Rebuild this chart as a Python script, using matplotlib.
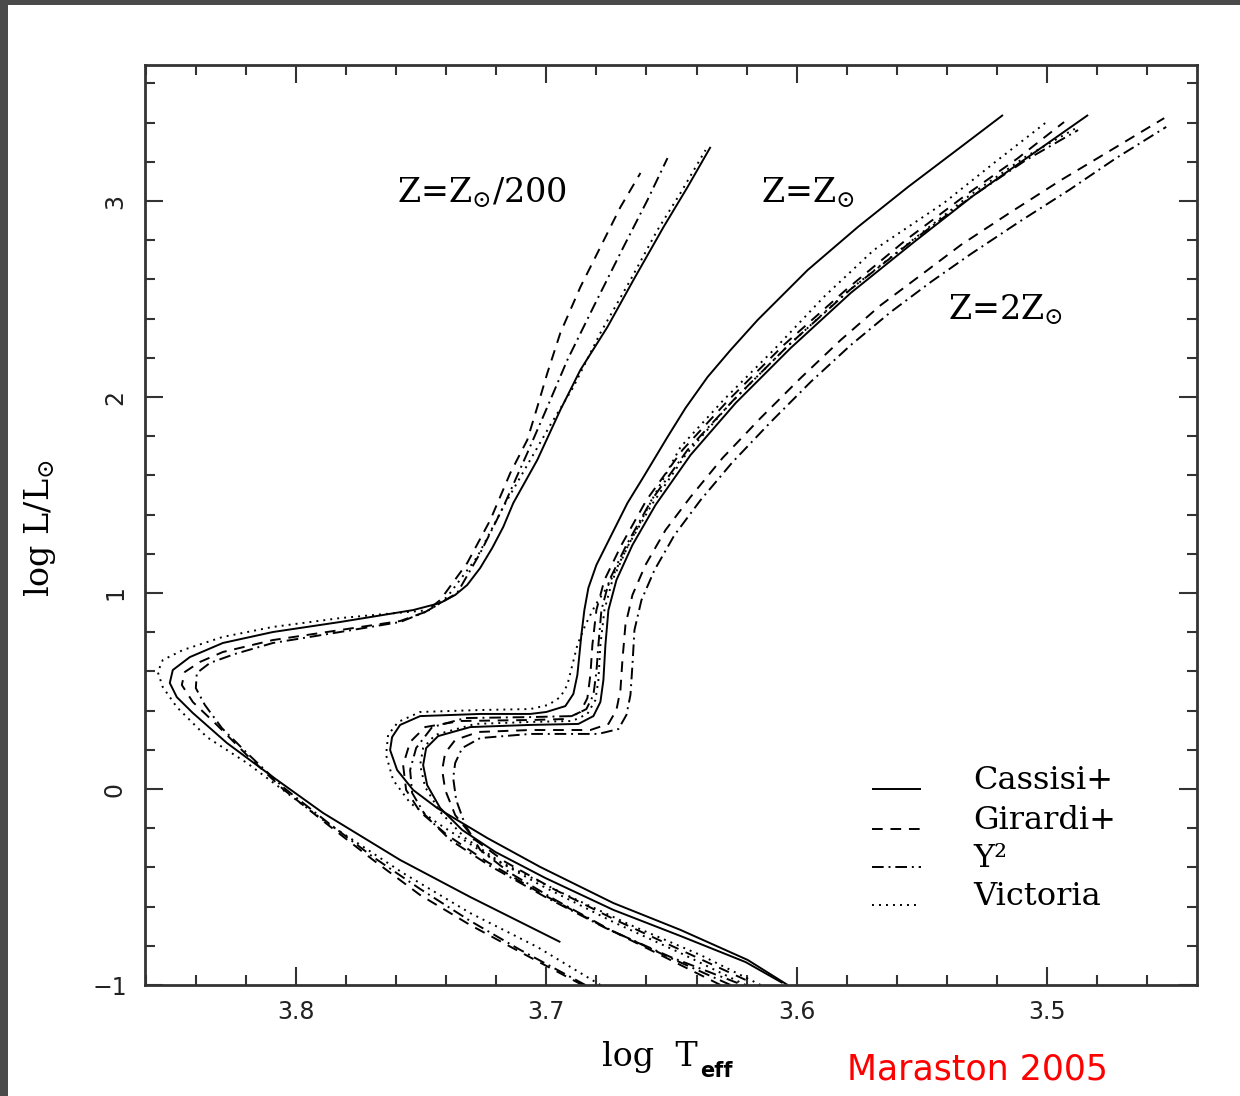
import matplotlib
matplotlib.use("Agg")
import matplotlib.pyplot as plt
from matplotlib.patches import Rectangle
from matplotlib.ticker import MultipleLocator

plt.rcParams['mathtext.fontset'] = 'dejavuserif'

# ---- isochrones: log Teff, log L/Lsun ----
# Z = Zsun/200
z200_cassisi_t = [3.6944, 3.7304, 3.7584, 3.7892, 3.8092, 3.8276, 3.8412, 3.8476, 3.8504, 3.8492, 3.8424, 3.8292, 3.8092, 3.7824,
                  3.7532, 3.7424, 3.7364, 3.7316, 3.7264, 3.7216, 3.7172, 3.7132, 3.7036, 3.6944, 3.6864, 3.6756, 3.6652,
                  3.6532, 3.6436, 3.6344]
z200_cassisi_l = [-0.781, -0.551, -0.362, -0.122, 0.061, 0.235, 0.388, 0.469, 0.541, 0.607, 0.673, 0.745, 0.801, 0.852,
                  0.913, 0.949, 0.990, 1.041, 1.128, 1.230, 1.337, 1.459, 1.679, 1.934, 2.138, 2.357, 2.597,
                  2.867, 3.071, 3.276]
z200_victoria_t = [3.6784, 3.7036, 3.7304, 3.7572, 3.7876, 3.8036, 3.8196, 3.8356, 3.8476, 3.8532, 3.8552, 3.8532, 3.8452, 3.8292,
                   3.8092, 3.7824, 3.7556, 3.7464, 3.7396, 3.7276, 3.7172, 3.7076, 3.6984, 3.6892, 3.6784, 3.6664, 3.6556, 3.6464, 3.6364]
z200_victoria_l = [-1.0, -0.806, -0.633, -0.429, -0.173, -0.020, 0.133, 0.265, 0.418, 0.520, 0.597, 0.658, 0.709, 0.776,
                   0.827, 0.872, 0.903, 0.913, 0.980, 1.184, 1.439, 1.653, 1.857, 2.051, 2.327, 2.597, 2.852, 3.041, 3.260]
z200_girardi_t = [3.6856, 3.7104, 3.7304, 3.7504, 3.7692, 3.7876, 3.8052, 3.8196, 3.8316, 3.8412, 3.8456, 3.8444, 3.8384, 3.8292, 3.8092,
                  3.7824, 3.7584, 3.7484, 3.7424, 3.7316, 3.7224, 3.7144, 3.7076, 3.7036, 3.6996, 3.6944, 3.6864, 3.6784, 3.6704, 3.6624]
z200_girardi_l = [-1.0, -0.832, -0.694, -0.541, -0.362, -0.179, 0.0, 0.173, 0.327, 0.444, 0.531, 0.597, 0.648, 0.699, 0.760,
                  0.811, 0.857, 0.903, 0.964, 1.153, 1.372, 1.612, 1.781, 1.949, 2.122, 2.327, 2.561, 2.765, 2.969, 3.143]
z200_y2_t = [3.6844, 3.7104, 3.7304, 3.7504, 3.7692, 3.7876, 3.8052, 3.8196, 3.8296, 3.8364, 3.84, 3.8396, 3.8344, 3.8244, 3.8092,
             3.7824, 3.7584, 3.7484, 3.7416, 3.7356, 3.7264, 3.7172, 3.7076, 3.6996, 3.6916, 3.6812, 3.6692, 3.6596, 3.6516]
z200_y2_l = [-1.0, -0.821, -0.673, -0.510, -0.347, -0.168, 0.010, 0.184, 0.311, 0.429, 0.515, 0.592, 0.643, 0.689, 0.745,
             0.801, 0.852, 0.903, 0.954, 1.0, 1.204, 1.439, 1.714, 1.949, 2.189, 2.459, 2.765, 3.005, 3.219]

# Z = Zsun
zsun_cassisi_t = [3.6036, 3.6196, 3.6464, 3.6732, 3.7024, 3.7236, 3.7436, 3.7532, 3.7596, 3.7624, 3.7616, 3.7584, 3.7504, 3.7264,
                  3.7064, 3.7, 3.6924, 3.6892, 3.6876, 3.6868, 3.686, 3.6848, 3.6832, 3.68, 3.6744, 3.6676, 3.6612, 3.6516,
                  3.6444, 3.6356, 3.6264, 3.6156, 3.5956, 3.5756, 3.5556, 3.5344, 3.5176]
zsun_cassisi_l = [-1.0, -0.872, -0.719, -0.582, -0.398, -0.250, -0.097, -0.005, 0.097, 0.199, 0.265, 0.327, 0.372, 0.383,
                  0.383, 0.393, 0.423, 0.485, 0.582, 0.684, 0.786, 0.913, 1.026, 1.143, 1.286, 1.459, 1.592, 1.796,
                  1.944, 2.102, 2.240, 2.393, 2.648, 2.867, 3.071, 3.276, 3.439]
zsun_victoria_t = [3.6204, 3.6464, 3.6732, 3.7024, 3.7236, 3.7436, 3.7544, 3.7612, 3.764, 3.7632, 3.7592, 3.7504, 3.7264, 3.7064,
                   3.6992, 3.6944, 3.6916, 3.6896, 3.6876, 3.6844, 3.6804, 3.6756, 3.6676, 3.6572, 3.6464, 3.6292, 3.6092,
                   3.5892, 3.5692, 3.5412, 3.5212, 3.4992]
zsun_victoria_l = [-1.0, -0.837, -0.679, -0.490, -0.337, -0.173, -0.071, 0.046, 0.173, 0.276, 0.342, 0.393, 0.403, 0.408,
                   0.429, 0.469, 0.531, 0.633, 0.735, 0.837, 0.939, 1.031, 1.235, 1.490, 1.745, 1.985, 2.240,
                   2.510, 2.750, 2.990, 3.194, 3.413]
zsun_girardi_t = [3.6304, 3.6544, 3.6784, 3.7024, 3.7236, 3.7396, 3.7504, 3.756, 3.7572, 3.7544, 3.7484, 3.7344, 3.7064, 3.6924,
                  3.6864, 3.6836, 3.6824, 3.6816, 3.68, 3.6768, 3.67, 3.66, 3.6456, 3.6272, 3.6052, 3.5804, 3.5564,
                  3.5324, 3.5116, 3.4932]
zsun_girardi_l = [-1.0, -0.847, -0.694, -0.531, -0.372, -0.235, -0.117, -0.005, 0.122, 0.240, 0.316, 0.347, 0.352, 0.357,
                  0.393, 0.464, 0.582, 0.735, 0.913, 1.066, 1.245, 1.474, 1.730, 1.985, 2.265, 2.546, 2.801,
                  3.031, 3.219, 3.403]
zsun_y2_t = [3.6236, 3.6504, 3.6764, 3.7004, 3.7224, 3.7384, 3.7484, 3.7536, 3.7544, 3.752, 3.7456, 3.7324, 3.7064, 3.6896,
             3.684, 3.6812, 3.68, 3.6792, 3.678, 3.6748, 3.668, 3.658, 3.6436, 3.6252, 3.6032, 3.5788, 3.5544,
             3.5304, 3.5084, 3.4876]
zsun_y2_l = [-0.990, -0.857, -0.709, -0.551, -0.393, -0.260, -0.133, -0.020, 0.097, 0.209, 0.316, 0.362, 0.367, 0.372,
             0.408, 0.480, 0.597, 0.735, 0.913, 1.066, 1.245, 1.474, 1.730, 1.985, 2.265, 2.546, 2.791,
             3.020, 3.209, 3.362]

# Z = 2 Zsun
z2sun_cassisi_t = [3.6056, 3.6204, 3.6464, 3.6732, 3.7004, 3.7204, 3.7336, 3.7424, 3.7476, 3.7492, 3.748, 3.7432, 3.7304, 3.7064,
                   3.6872, 3.6812, 3.6784, 3.6772, 3.6764, 3.6752, 3.672, 3.6656, 3.6564, 3.6424, 3.6244, 3.6024, 3.5784,
                   3.5536, 3.5296, 3.5064, 3.4836]
z2sun_cassisi_l = [-0.990, -0.883, -0.750, -0.617, -0.454, -0.321, -0.209, -0.097, 0.020, 0.122, 0.209, 0.270, 0.316, 0.327,
                   0.332, 0.372, 0.444, 0.556, 0.735, 0.913, 1.066, 1.245, 1.449, 1.704, 1.969, 2.250, 2.531,
                   2.786, 3.026, 3.235, 3.439]
z2sun_victoria_t = [3.6144, 3.6384, 3.6664, 3.6944, 3.7184, 3.7324, 3.7424, 3.7484, 3.7504, 3.7492, 3.7444, 3.7284, 3.7064, 3.6896,
                    3.6836, 3.6804, 3.6792, 3.6784, 3.6768, 3.6736, 3.6672, 3.658, 3.6444, 3.6264, 3.6044, 3.5804, 3.5552,
                    3.5312, 3.5088, 3.4884]
z2sun_victoria_l = [-1.0, -0.847, -0.694, -0.526, -0.372, -0.250, -0.117, 0.010, 0.122, 0.209, 0.276, 0.332, 0.342, 0.347,
                    0.383, 0.454, 0.556, 0.735, 0.913, 1.066, 1.245, 1.449, 1.704, 1.969, 2.250, 2.531, 2.786,
                    3.026, 3.224, 3.372]
z2sun_girardi_t = [3.6204, 3.6464, 3.6724, 3.6964, 3.7164, 3.7284, 3.7364, 3.7404, 3.7416, 3.7404, 3.7364, 3.7272, 3.7064, 3.6824,
                   3.6752, 3.672, 3.6704, 3.6696, 3.6684, 3.6656, 3.6604, 3.6524, 3.6424, 3.6296, 3.6144, 3.5984, 3.5824,
                   3.5664, 3.5504, 3.5344, 3.5144, 3.4944, 3.4744, 3.4532]
z2sun_girardi_l = [-0.974, -0.821, -0.668, -0.515, -0.372, -0.260, -0.133, -0.005, 0.097, 0.184, 0.250, 0.291, 0.301, 0.301,
                   0.332, 0.403, 0.505, 0.658, 0.837, 0.990, 1.143, 1.321, 1.490, 1.689, 1.893, 2.097, 2.291,
                   2.469, 2.622, 2.776, 2.944, 3.107, 3.260, 3.423]
z2sun_y2_t = [3.6264, 3.6504, 3.6744, 3.6964, 3.7144, 3.7264, 3.7324, 3.736, 3.7372, 3.7364, 3.7336, 3.7264, 3.7064, 3.6792,
              3.6712, 3.668, 3.6664, 3.6656, 3.6648, 3.662, 3.6568, 3.6488, 3.6384, 3.6256, 3.6104, 3.5944, 3.5784,
              3.5624, 3.5464, 3.5304, 3.5112, 3.4912, 3.4724, 3.4524]
z2sun_y2_l = [-1.0, -0.862, -0.719, -0.566, -0.429, -0.311, -0.184, -0.056, 0.056, 0.133, 0.209, 0.260, 0.281, 0.281,
              0.306, 0.378, 0.480, 0.633, 0.811, 0.964, 1.117, 1.296, 1.474, 1.668, 1.872, 2.077, 2.265,
              2.434, 2.587, 2.730, 2.893, 3.056, 3.219, 3.378]

models = ['Cassisi+', 'Girardi+', 'Y\u00b2', 'Victoria']
line_styles = {
    'Cassisi+': '-',
    'Girardi+': (0, (5.5, 4.0)),
    'Y\u00b2': (0, (6.0, 2.5, 1.0, 2.5)),
    'Victoria': (0, (1.0, 2.6)),
}

isochrones = [
    ('Cassisi+', z200_cassisi_t, z200_cassisi_l),
    ('Girardi+', z200_girardi_t, z200_girardi_l),
    ('Y\u00b2', z200_y2_t, z200_y2_l),
    ('Victoria', z200_victoria_t, z200_victoria_l),
    ('Cassisi+', zsun_cassisi_t, zsun_cassisi_l),
    ('Girardi+', zsun_girardi_t, zsun_girardi_l),
    ('Y\u00b2', zsun_y2_t, zsun_y2_l),
    ('Victoria', zsun_victoria_t, zsun_victoria_l),
    ('Cassisi+', z2sun_cassisi_t, z2sun_cassisi_l),
    ('Girardi+', z2sun_girardi_t, z2sun_girardi_l),
    ('Y\u00b2', z2sun_y2_t, z2sun_y2_l),
    ('Victoria', z2sun_victoria_t, z2sun_victoria_l),
]

fig = plt.figure(figsize=(12.4, 10.96), dpi=100)
fig.patch.set_facecolor('white')
# dark frame of the slide
fig.patches.append(Rectangle((0, 1 - 5 / 1096), 1, 5 / 1096, transform=fig.transFigure,
                             facecolor='#4a4a4a', edgecolor='none'))
fig.patches.append(Rectangle((0, 0), 8 / 1240, 1, transform=fig.transFigure,
                             facecolor='#4a4a4a', edgecolor='none'))

ax = fig.add_axes([145 / 1240, 1 - 985 / 1096, 1052 / 1240, 920 / 1096])

for name, t, l in isochrones:
    ax.plot(t, l, color='black', lw=1.4, ls=line_styles[name], solid_capstyle='butt',
            solid_joinstyle='round')

ax.set_xlim(3.8603, 3.4401)
ax.set_ylim(-1.0, 3.694)

for sp in ax.spines.values():
    sp.set_linewidth(2.0)
    sp.set_color('#333333')

ax.xaxis.set_major_locator(MultipleLocator(0.1))
ax.xaxis.set_minor_locator(MultipleLocator(0.02))
ax.yaxis.set_major_locator(MultipleLocator(1))
ax.yaxis.set_minor_locator(MultipleLocator(0.2))
ax.tick_params(which='both', direction='in', top=True, right=True, color='#333333', width=1.5)
ax.tick_params(which='major', length=13)
ax.tick_params(which='minor', length=7)
ax.tick_params(axis='x', which='major', pad=11, labelsize=17)
ax.tick_params(axis='y', which='major', pad=13, labelsize=17)

ax.set_xticks([3.8, 3.7, 3.6, 3.5], labels=['3.8', '3.7', '3.6', '3.5'])
ax.set_yticks([-1, 0, 1, 2, 3], labels=['\u22121', '0', '1', '2', '3'])
for lab in ax.get_yticklabels():
    if lab.get_text() != '\u22121':
        lab.set_rotation(90)
        lab.set_verticalalignment('center')
for lab in ax.get_xticklabels() + ax.get_yticklabels():
    lab.set_color('#222222')

# metallicity labels
serif = 'DejaVu Serif'
ax.text(3.7596, 2.99, r'Z=Z$_{\odot}$/200', family=serif, fontsize=24, va='baseline')
ax.text(3.6144, 2.99, r'Z=Z$_{\odot}$', family=serif, fontsize=24, va='baseline')
ax.text(3.5396, 2.393, r'Z=2Z$_{\odot}$', family=serif, fontsize=24, va='baseline')

# key
key_y = [0.213, 0.170, 0.128, 0.087]
for name, yk in zip(models, key_y):
    ax.plot([0.691, 0.738], [yk, yk], transform=ax.transAxes, color='black', lw=1.4,
            ls=line_styles[name], solid_capstyle='butt')
    ax.text(0.787, yk, name, transform=ax.transAxes, family=serif, fontsize=23, va='baseline')

# axis titles
fig.text(40 / 1240, 1 - 528 / 1096, r'log L/L$_{\odot}$', family=serif, fontsize=24,
         rotation=90, ha='center', va='center')
fig.text(602 / 1240, 1 - 1066 / 1096, 'log  T', family=serif, fontsize=24, va='baseline')
fig.text(700 / 1240, 1 - 1077 / 1096, 'eff', family='DejaVu Sans', fontsize=15,
         fontweight='bold', va='baseline')

fig.text(847 / 1240, 1 - 1080 / 1096, 'Maraston 2005', color='#ff0000', family='DejaVu Sans',
         fontsize=25, va='baseline')

fig.savefig('out.png', dpi=100, facecolor='white')
